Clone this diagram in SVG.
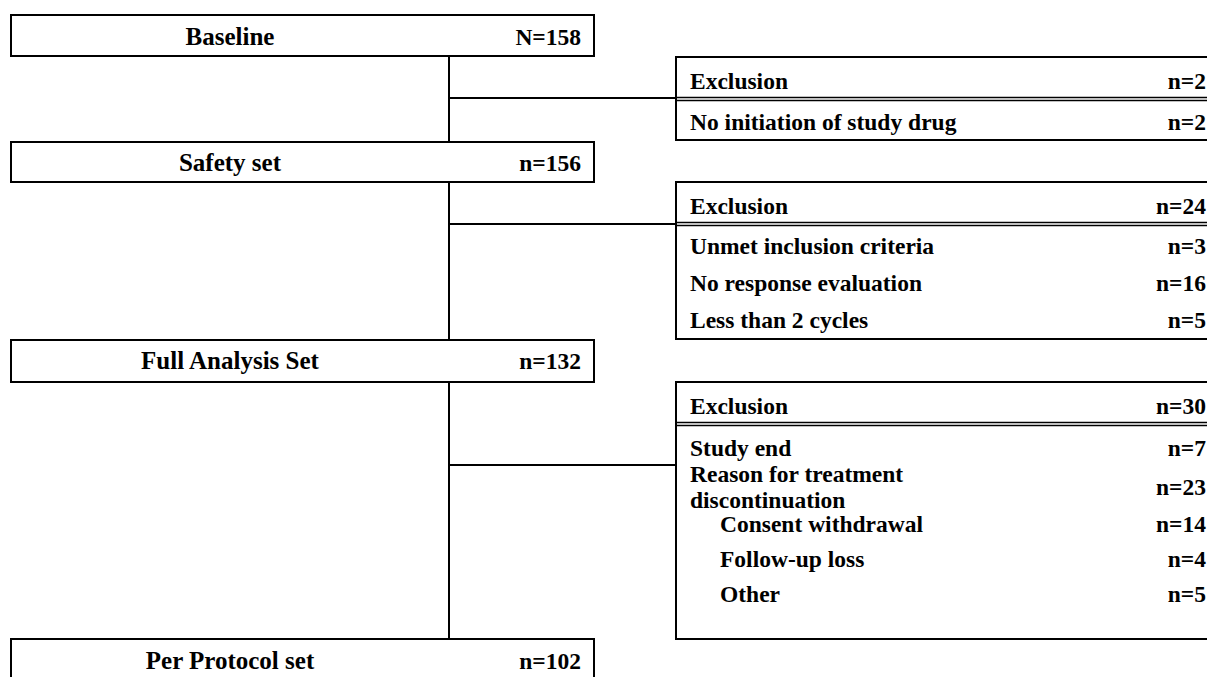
<svg xmlns="http://www.w3.org/2000/svg" width="1207" height="677" viewBox="0 0 1207 677">
<style>
.box{fill:#fff;stroke:#000;stroke-width:2}
.sep{stroke:#000;stroke-width:1.5}
.ln{stroke:#000;stroke-width:2;fill:none}
text{font-family:"Liberation Serif","Times New Roman",serif;font-weight:bold;font-size:23.5px;fill:#000}
.c{text-anchor:middle;font-size:25px}
.r{text-anchor:end}
</style>
<g id="connectors">
<path class="ln" d="M449,56 V142 M449,182 V340 M449,382 V639"/>
<path class="ln" d="M449,98 H676 M449,224 H676 M449,465 H676"/>
</g>
<g id="baseline">
<rect class="box" x="11" y="15" width="583" height="41"/>
<text class="c" x="230" y="45">Baseline</text>
<text class="r" x="581" y="45">N=158</text>
</g>
<g id="exclusion1">
<rect class="box" x="676" y="57" width="560" height="83"/>
<line class="sep" x1="676" y1="97.5" x2="1207" y2="97.5"/>
<line class="sep" x1="676" y1="100.5" x2="1207" y2="100.5"/>
<text x="690" y="89">Exclusion</text>
<text class="r" x="1206" y="89">n=2</text>
<text x="690" y="130">No initiation of study drug</text>
<text class="r" x="1206" y="130">n=2</text>
</g>
<g id="safety">
<rect class="box" x="11" y="142" width="583" height="40"/>
<text class="c" x="230" y="171">Safety set</text>
<text class="r" x="581" y="171">n=156</text>
</g>
<g id="exclusion2">
<rect class="box" x="676" y="182" width="560" height="157"/>
<line class="sep" x1="676" y1="222.5" x2="1207" y2="222.5"/>
<line class="sep" x1="676" y1="225.5" x2="1207" y2="225.5"/>
<text x="690" y="214">Exclusion</text>
<text class="r" x="1206" y="214">n=24</text>
<text x="690" y="254">Unmet inclusion criteria</text>
<text class="r" x="1206" y="254">n=3</text>
<text x="690" y="291">No response evaluation</text>
<text class="r" x="1206" y="291">n=16</text>
<text x="690" y="328">Less than 2 cycles</text>
<text class="r" x="1206" y="328">n=5</text>
</g>
<g id="fullanalysis">
<rect class="box" x="11" y="340" width="583" height="42"/>
<text class="c" x="230" y="369">Full Analysis Set</text>
<text class="r" x="581" y="369">n=132</text>
</g>
<g id="exclusion3">
<rect class="box" x="676" y="382" width="560" height="257"/>
<line class="sep" x1="676" y1="422.5" x2="1207" y2="422.5"/>
<line class="sep" x1="676" y1="425.5" x2="1207" y2="425.5"/>
<text x="690" y="414">Exclusion</text>
<text class="r" x="1206" y="414">n=30</text>
<text x="690" y="456">Study end</text>
<text class="r" x="1206" y="456">n=7</text>
<text x="690" y="482">Reason for treatment</text>
<text x="690" y="508">discontinuation</text>
<text class="r" x="1206" y="495">n=23</text>
<text x="720" y="532">Consent withdrawal</text>
<text class="r" x="1206" y="532">n=14</text>
<text x="720" y="567">Follow-up loss</text>
<text class="r" x="1206" y="567">n=4</text>
<text x="720" y="602">Other</text>
<text class="r" x="1206" y="602">n=5</text>
</g>
<g id="perprotocol">
<rect class="box" x="11" y="639" width="583" height="45"/>
<text class="c" x="230" y="669">Per Protocol set</text>
<text class="r" x="581" y="669">n=102</text>
</g>
</svg>
